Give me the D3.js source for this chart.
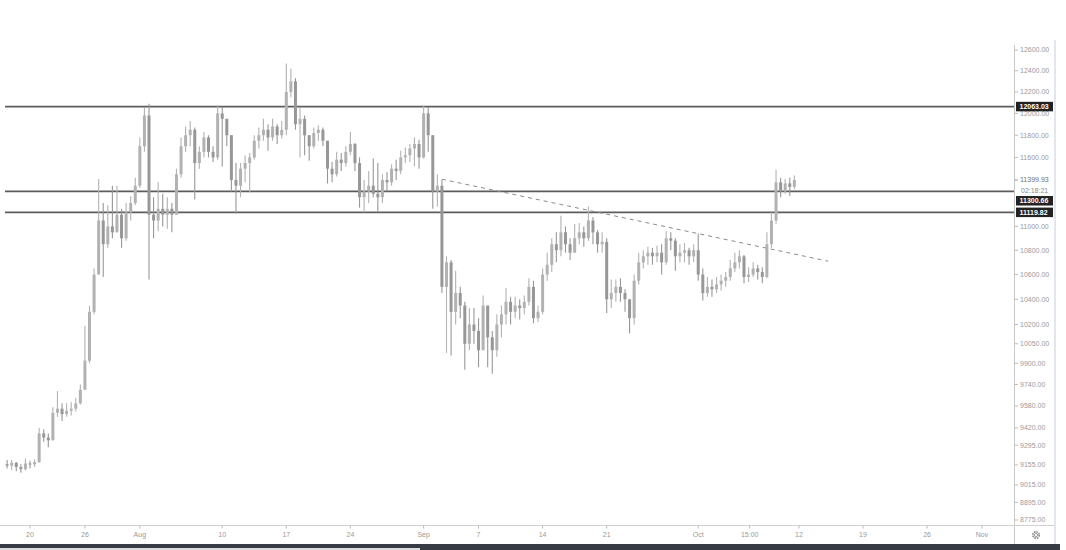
<!DOCTYPE html>
<html><head><meta charset="utf-8">
<script src="https://cdn.jsdelivr.net/npm/d3@7"></script>
<style>
body{margin:0;background:#fff;}
svg{display:block;font-family:"Liberation Sans",Arial,sans-serif;}
</style>
</head><body>
<svg id="c" width="1066" height="550"></svg>
<script>
// ---- data (12h candles, BTC/USD, Jul 17 – Oct 11) ----
const firstOpen = 9160;
const startTime = "2020-07-17T12:00:00Z";
const stepHours = 12;
const closes = [9150,9170,9140,9125,9165,9160,9175,9380,9350,9330,
9530,9560,9520,9545,9560,9600,9700,9920,10300,10600,
11050,10850,11000,10950,11100,10900,11120,11200,11350,11700,
11980,11100,11050,11150,11100,11150,11100,11450,11700,11800,
11850,11550,11650,11780,11650,11600,12000,11950,11800,11400,
11350,11500,11550,11600,11750,11800,11850,11780,11880,11800,
11850,12200,12300,11900,11950,11800,11700,11820,11850,11750,
11500,11450,11580,11550,11650,11720,11550,11250,11300,11350,
11280,11250,11400,11380,11500,11480,11600,11620,11680,11720,
11600,12000,11800,11300,11350,10500,10700,10300,10450,10350,
10050,10200,10150,10000,10350,10100,10000,10200,10280,10380,
10300,10350,10330,10380,10500,10250,10300,10600,10680,10850,
10800,10950,10850,10780,10900,10950,10900,11050,10950,10850,
10870,10400,10450,10500,10450,10400,10250,10550,10700,10750,
10780,10750,10780,10700,10900,10880,10750,10780,10800,10750,
10800,10600,10450,10500,10480,10520,10550,10580,10650,10700,
10750,10580,10600,10650,10620,10580,10850,11050,11380,11300,
11370,11340,11399.93];
const highs = [9190,9190,9175,9160,9200,9185,9195,9420,9410,9380,
9570,9690,9600,9600,9610,9640,9740,10190,10350,10650,
11410,11200,11180,11350,11350,11150,11200,11260,11420,11780,
12050,12090,11250,11380,11280,11250,11200,11500,11780,11880,
11930,11870,11700,11830,11800,11700,12075,12060,11950,11800,
11550,11550,11620,11640,11800,11870,11950,11900,11950,11900,
11930,12470,12420,12330,12050,11980,11800,11870,11890,11870,
11750,11560,11650,11640,11700,11830,11730,11600,11400,11480,
11590,11550,11450,11470,11540,11580,11660,11690,11720,11780,
11760,12070,12060,11800,11450,11400,10750,10720,10630,10500,
10380,10330,10330,10250,10430,10350,10150,10280,10350,10490,
10420,10420,10400,10430,10570,10550,10350,10650,10780,10900,
10950,11090,11000,10900,11020,11030,11000,11170,11080,10970,
10950,10900,10560,10560,10570,10480,10400,10600,10780,10800,
10830,10820,10840,10850,10960,10950,10900,10850,10860,10820,
10850,10940,10650,10580,10560,10580,10600,10620,10720,10780,
10800,10760,10660,10700,10680,10660,10950,11120,11490,11420,
11410,11420,11440];
const lows = [9130,9120,9110,9100,9115,9130,9140,9170,9320,9280,
9330,9500,9470,9500,9510,9540,9590,9700,9900,10280,
10600,10580,10820,10900,10950,10820,10880,11050,11180,11330,
11650,10560,10900,10960,11000,10980,10950,11100,11420,11650,
11700,11230,11500,11600,11600,11560,11580,11520,11700,11300,
11110,11250,11380,11290,11580,11680,11750,11660,11750,11720,
11770,11800,12150,11850,11600,11620,11570,11680,11750,11700,
11370,11380,11430,11480,11520,11620,11480,11160,11120,11200,
11250,11130,11200,11300,11350,11400,11450,11550,11560,11520,
11500,11590,11650,11150,11170,10450,9980,9960,10200,10250,
9850,10000,10050,9870,10000,9870,9820,9950,10100,10200,
10200,10250,10240,10280,10350,10210,10220,10280,10550,10620,
10700,10750,10780,10720,10780,10850,10830,10880,10850,10780,
10780,10290,10330,10380,10380,10300,10130,10200,10520,10650,
10680,10680,10700,10600,10680,10800,10630,10700,10700,10680,
10700,10550,10390,10420,10420,10450,10470,10500,10550,10620,
10650,10530,10540,10580,10560,10530,10570,10820,11020,11250,
11280,11260,11320];
const levels = [12063.03, 11300.66, 11119.82];
const trendDates = ["2020-09-03T00:00:00Z", "2020-10-15T05:00:00Z"];
const trendPrices = [11407, 10709];
const priceTicks = [12600,12400,12200,12000,11800,11600,11000,10800,10600,10400,10200,10050,9900,9740,9580,9420,9295,9155,9015,8895,8775];
const timeTickDates = ["2020-07-20","2020-07-26","2020-08-01","2020-08-10","2020-08-17","2020-08-24","2020-09-01","2020-09-07","2020-09-14","2020-09-21","2020-10-01","2020-10-06T15:00:00Z","2020-10-12","2020-10-19","2020-10-26","2020-11-01"];
const timeTickLabels = ["20","26","Aug","10","17","24","Sep","7","14","21","Oct","15:00","12","19","26","Nov"];
const lastPrice = 11399.93;
const countdown = "02:18:21";

// ---- build ----
const svg = d3.select("#c");
const axisX = 1014.5, plotTop = 45, plotBottom = 525.5;
const x = d3.scaleUtc().domain([new Date("2020-07-20T00:00:00Z"), new Date("2020-11-01T00:00:00Z")]).range([30, 982]);
const y = d3.scaleLog().domain([8775, 12600]).range([520, 50]);

const t0 = new Date(startTime).getTime();
const candles = closes.map((c, i) => {
  const o = i === 0 ? firstOpen : closes[i - 1];
  return {t: new Date(t0 + i * stepHours * 3600e3), o, c,
          h: Math.max(highs[i], o, c), l: Math.min(lows[i], o, c)};
});

const defs = svg.append("defs");
defs.append("clipPath").attr("id","clip")
  .append("rect").attr("x",0).attr("y",plotTop).attr("width",axisX).attr("height",plotBottom-plotTop);
defs.append("filter").attr("id","soft").append("feGaussianBlur").attr("stdDeviation", 0.35);

const plot = svg.append("g").attr("clip-path","url(#clip)");

// level lines
plot.selectAll("line.level").data(levels).join("line")
  .attr("x1", 5).attr("x2", axisX)
  .attr("y1", d => y(d)).attr("y2", d => y(d))
  .attr("stroke", "#5c5c5c").attr("stroke-width", 1.8);

// trend line
plot.append("line")
  .attr("x1", x(new Date(trendDates[0]))).attr("y1", y(trendPrices[0]))
  .attr("x2", x(new Date(trendDates[1]))).attr("y2", y(trendPrices[1]))
  .attr("stroke", "#8a8a8a").attr("stroke-width", 1).attr("stroke-dasharray", "4,4");

// candles
const upCol = "#b2b2b2", dnCol = "#979797";
const cg = plot.append("g").attr("filter", "url(#soft)");
cg.selectAll("line.wick").data(candles).join("line")
  .attr("x1", d => x(d.t)).attr("x2", d => x(d.t))
  .attr("y1", d => y(d.h)).attr("y2", d => y(d.l))
  .attr("stroke", d => d.c >= d.o ? upCol : dnCol).attr("stroke-width", 1.1);
cg.selectAll("rect.body").data(candles).join("rect")
  .attr("x", d => x(d.t) - 1.5).attr("width", 3)
  .attr("y", d => y(Math.max(d.o, d.c)))
  .attr("height", d => Math.max(1, y(Math.min(d.o, d.c)) - y(Math.max(d.o, d.c))))
  .attr("fill", d => d.c >= d.o ? upCol : dnCol);

// axes frame
svg.append("line").attr("x1", axisX).attr("x2", axisX).attr("y1", plotTop).attr("y2", 545)
  .attr("stroke", "#c9c9c9").attr("stroke-width", 1);
svg.append("line").attr("x1", 0).attr("x2", 1055).attr("y1", plotBottom).attr("y2", plotBottom)
  .attr("stroke", "#d0d0d0").attr("stroke-width", 1);
svg.append("line").attr("x1", 1055).attr("x2", 1055).attr("y1", 40).attr("y2", 545)
  .attr("stroke", "#e2e7ee").attr("stroke-width", 2);

// price ticks
const pt = svg.append("g");
pt.selectAll("line").data(priceTicks).join("line")
  .attr("x1", axisX).attr("x2", axisX + 3.5)
  .attr("y1", d => y(d)).attr("y2", d => y(d)).attr("stroke", "#bbb");
pt.selectAll("text").data(priceTicks).join("text")
  .attr("x", 1020).attr("y", d => y(d)).attr("dy", "0.35em")
  .attr("font-size", 7).attr("fill", "#9a9a9a")
  .text(d => d3.format(".2f")(d));

// current price + countdown
svg.append("line").attr("x1", axisX).attr("x2", axisX + 3.5).attr("y1", y(lastPrice)).attr("y2", y(lastPrice)).attr("stroke", "#999");
svg.append("text").attr("x", 1020).attr("y", y(lastPrice)).attr("dy", "0.35em")
  .attr("font-size", 7).attr("fill", "#707070").text(d3.format(".2f")(lastPrice));
svg.append("text").attr("x", 1021).attr("y", y(lastPrice) + 11).attr("dy", "0.35em")
  .attr("font-size", 7).attr("fill", "#8a8a8a").text(countdown);

// level labels with stacking
const boxH = 9.5;
let prevBottom = y(lastPrice) + 16;
const sorted = levels.slice().sort((a, b) => b - a);
const labelPos = sorted.map(v => {
  let cy = y(v);
  if (cy < y(lastPrice) - 10) return {v, cy};
  cy = Math.max(cy, prevBottom + boxH / 2);
  prevBottom = cy + boxH / 2 + 1;
  return {v, cy};
});
const lb = svg.append("g");
lb.selectAll("rect").data(labelPos).join("rect")
  .attr("x", axisX + 1.5).attr("width", 37).attr("y", d => d.cy - boxH / 2).attr("height", boxH)
  .attr("fill", "#222");
lb.selectAll("text").data(labelPos).join("text")
  .attr("x", 1019.5).attr("y", d => d.cy).attr("dy", "0.35em")
  .attr("font-size", 7).attr("font-weight", "bold").attr("fill", "#fff")
  .text(d => d3.format(".2f")(d.v));

// time ticks
const tt = svg.append("g");
const tickData = timeTickDates.map((d, i) => ({t: new Date(d.length > 10 ? d : d + "T00:00:00Z"), label: timeTickLabels[i]}));
tt.selectAll("line").data(tickData).join("line")
  .attr("x1", d => x(d.t)).attr("x2", d => x(d.t)).attr("y1", plotBottom).attr("y2", plotBottom + 3)
  .attr("stroke", "#bbb");
tt.selectAll("text").data(tickData).join("text")
  .attr("x", d => x(d.t)).attr("y", 535).attr("dy", "0.35em").attr("text-anchor", "middle")
  .attr("font-size", 7).attr("fill", "#9a9a9a").text(d => d.label);

// gear icon
const gear = svg.append("g").attr("transform", "translate(1036,535)");
gear.append("circle").attr("r", 3.2).attr("fill", "none").attr("stroke", "#888").attr("stroke-width", 1.6)
  .attr("stroke-dasharray", "1.6,0.9");
gear.append("circle").attr("r", 1.6).attr("fill", "none").attr("stroke", "#888").attr("stroke-width", 0.8);

// bottom bar
svg.append("rect").attr("x", 0).attr("y", 544).attr("width", 1060).attr("height", 6).attr("fill", "#363b44");
svg.append("rect").attr("x", 0).attr("y", 548).attr("width", 420).attr("height", 2).attr("fill", "#dcdcdc");
</script>
</body></html>
